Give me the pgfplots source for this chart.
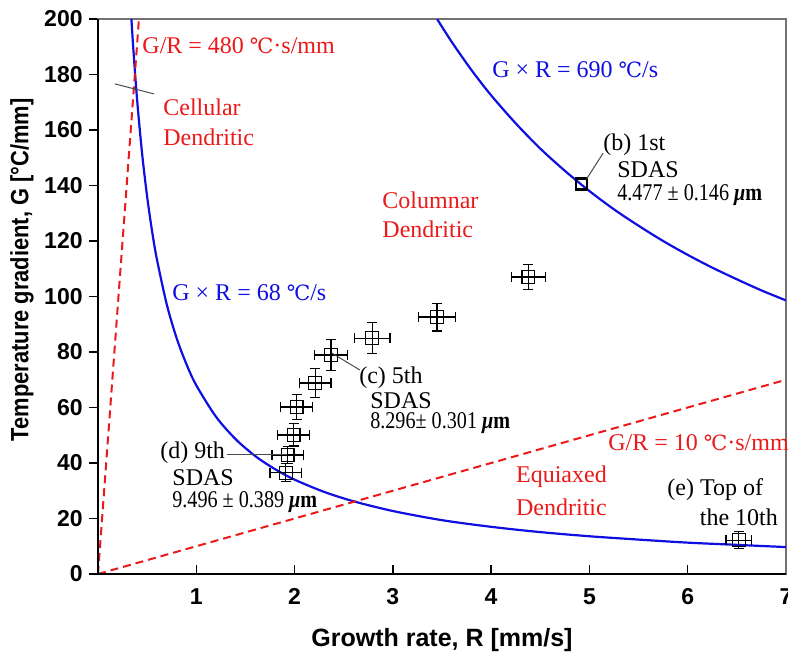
\documentclass[border=0pt]{standalone}
\usepackage{fontspec}
\usepackage{pgfplots}
\usepackage{pgfplotstable}
\pgfplotsset{compat=1.18}
\newfontfamily\arial{Liberation Sans}
\newfontfamily\serifA{Liberation Serif}
\newfontfamily\dvs{DejaVu Serif}
\newcommand\degC{{\dvs\fontsize{10.5}{12}\selectfont ℃}}
\definecolor{cred}{RGB}{235,25,25}
\definecolor{cblue}{RGB}{15,15,225}
\tikzset{ann/.style={font=\serifA\fontsize{12}{14}\selectfont, inner sep=0pt, anchor=west},
         num/.style={ann, xscale=0.84}}

\pgfplotstableread{
x     y      ex    ey
1.91  36.5   0.16  3.2
1.93  42.9   0.16  3.0
1.99  50.1   0.16  4.0
2.02  60.2   0.16  4.6
2.21  68.8   0.16  5.2
2.37  78.9   0.17  5.6
2.79  85.0   0.18  5.5
3.45  92.6   0.19  5.0
4.38  107.0  0.17  4.5
6.52  12.2   0.13  3.0
}\sdas

\begin{document}
\begin{tikzpicture}
\begin{axis}[
  scale only axis, width=344pt, height=277.5pt,
  xmin=0, xmax=7, ymin=0, ymax=200,
  xtick={1,...,7}, ytick={0,20,...,200},
  tick pos=left, tick align=inside,
  major tick length=4.5pt,
  every y tick/.append style={xshift=-4.5pt},
  axis line style={black!55, line width=0.6pt},
  tick style={black, line width=0.7pt},
  /pgf/number format/assume math mode=true,
  tick label style={font=\arial\bfseries\fontsize{11.5}{13}\selectfont},
  yticklabel style={anchor=east, inner sep=0pt, xshift=-7.5pt},
  xticklabel style={anchor=north, inner sep=0pt, yshift=-7pt},
  xlabel={Growth rate, R [mm/s]},
  ylabel={Temperature gradient, G [°C/mm]},
  every axis x label/.style={at={(rel axis cs:0.5,0)}, yshift=-33pt, anchor=center, font=\arial\bfseries\fontsize{12.5}{14}\selectfont},
  every axis y label/.style={at={(rel axis cs:0,0.548)}, xshift=-38pt, rotate=90, xscale=0.875, anchor=center, font=\arial\bfseries\fontsize{12.5}{14}\selectfont},
  clip mode=individual,
]
% G x R = 68
\addplot[cblue, line width=1.1pt, smooth] coordinates {(0.34,200) (0.36,188.9) (0.4,170) (0.45,151.1) (0.5,136) (0.55,123.6) (0.6,113.3) (0.7,97.1) (0.8,85) (0.9,75.6) (1.0,68) (1.2,56.7) (1.4,48.6) (1.6,42.5) (1.8,37.8) (2.0,34) (2.3,29.6) (2.6,26.2) (3.0,22.7) (3.5,19.4) (4.0,17) (4.5,15.1) (5.0,13.6) (5.5,12.4) (6.0,11.3) (6.5,10.5) (7.0,9.7)};
% G x R = 690
\addplot[cblue, line width=1.1pt, smooth] coordinates {(3.45,200) (3.6,191.7) (3.8,181.6) (4.0,172.5) (4.25,162.4) (4.5,153.3) (4.75,145.3) (5.0,138) (5.25,131.4) (5.5,125.5) (5.75,120) (6.0,115) (6.25,110.4) (6.5,106.2) (6.75,102.2) (7.0,98.6)};
% G/R lines
\addplot[cred, line width=1pt, dash pattern=on 4pt off 2.5pt] coordinates {(0,0) (0.4167,200)};
\addplot[cred, line width=1pt, dash pattern=on 4pt off 2.5pt] coordinates {(0,0) (7,70)};
% data
\addplot[black, only marks, mark=square, mark size=3.2pt, mark options={fill=white, line width=0.6pt},
  error bars/.cd, x dir=both, x explicit, y dir=both, y explicit,
  error bar style={line width=0.6pt}, error mark options={rotate=90, mark size=2.5pt, line width=0.6pt}]
  table[x=x, y=y, x error=ex, y error=ey] {\sdas};
\addplot[black, only marks, mark=square, mark size=2.7pt, mark options={fill=white, line width=1.3pt}] coordinates {(4.92,140.5)};

% axis lines left/bottom
\draw[black, line width=0.9pt] (rel axis cs:0,1) -- (rel axis cs:0,0) -- (rel axis cs:1,0);

% pointers
\draw[black!70, line width=0.5pt] (axis cs:0.173,176.6) -- (axis cs:0.57,173);
\draw[black!70, line width=0.5pt] (axis cs:4.97,142.3) -- (axis cs:5.14,151.7);
\draw[black!70, line width=0.5pt] (axis cs:2.38,79.6) -- (axis cs:2.665,73.5);
\draw[black!70, line width=0.5pt] (axis cs:1.31,43.2) -- (axis cs:1.92,43.2);

% labels
\node[ann, text=cred] at (axis cs:0.448,190.3) {G/R = 480 \degC·s/mm};
\node[ann, text=cred] at (axis cs:0.661,168.3) {Cellular};
\node[ann, text=cred] at (axis cs:0.661,157.5) {Dendritic};
\node[ann, text=cblue] at (axis cs:0.753,101.3) {G × R = 68 \degC/s};
\node[ann, text=cred] at (axis cs:2.89,134.8) {Columnar};
\node[ann, text=cred] at (axis cs:2.89,124.3) {Dendritic};
\node[ann, text=cblue] at (axis cs:4.008,181.6) {G × R = 690 \degC/s};
\node[ann, text=cred] at (axis cs:5.188,47.2) {G/R = 10 \degC·s/mm};
\node[ann, text=cred] at (axis cs:4.25,35) {Equiaxed};
\node[ann, text=cred] at (axis cs:4.25,24.1) {Dendritic};

\node[ann] at (axis cs:5.137,154.6) {(b) 1st};
\node[ann] at (axis cs:5.28,145.6) {SDAS};
\node[num] at (axis cs:5.28,136.6) {4.477 ± 0.146 \textbf{\textit{μ}m}};
\node[ann] at (axis cs:2.655,70.9) {(c) 5th};
\node[ann] at (axis cs:2.767,62.6) {SDAS};
\node[num] at (axis cs:2.767,54.4) {8.296± 0.301 \textbf{\textit{μ}m}};
\node[ann] at (axis cs:0.63,43.6) {(d) 9th};
\node[ann] at (axis cs:0.753,34.6) {SDAS};
\node[num] at (axis cs:0.753,25.9) {9.496 ± 0.389 \textbf{\textit{μ}m}};
\node[ann] at (axis cs:5.79,30.3) {(e) Top of};
\node[ann] at (axis cs:6.12,20.5) {the 10th};

\coordinate (bl) at (rel axis cs:0,0);
\coordinate (tr) at (rel axis cs:1,1);
\end{axis}
\pgfresetboundingbox
\path ([shift={(-49pt,-43pt)}]bl) rectangle ([shift={(1pt,9.5pt)}]tr);
\end{tikzpicture}
\end{document}
